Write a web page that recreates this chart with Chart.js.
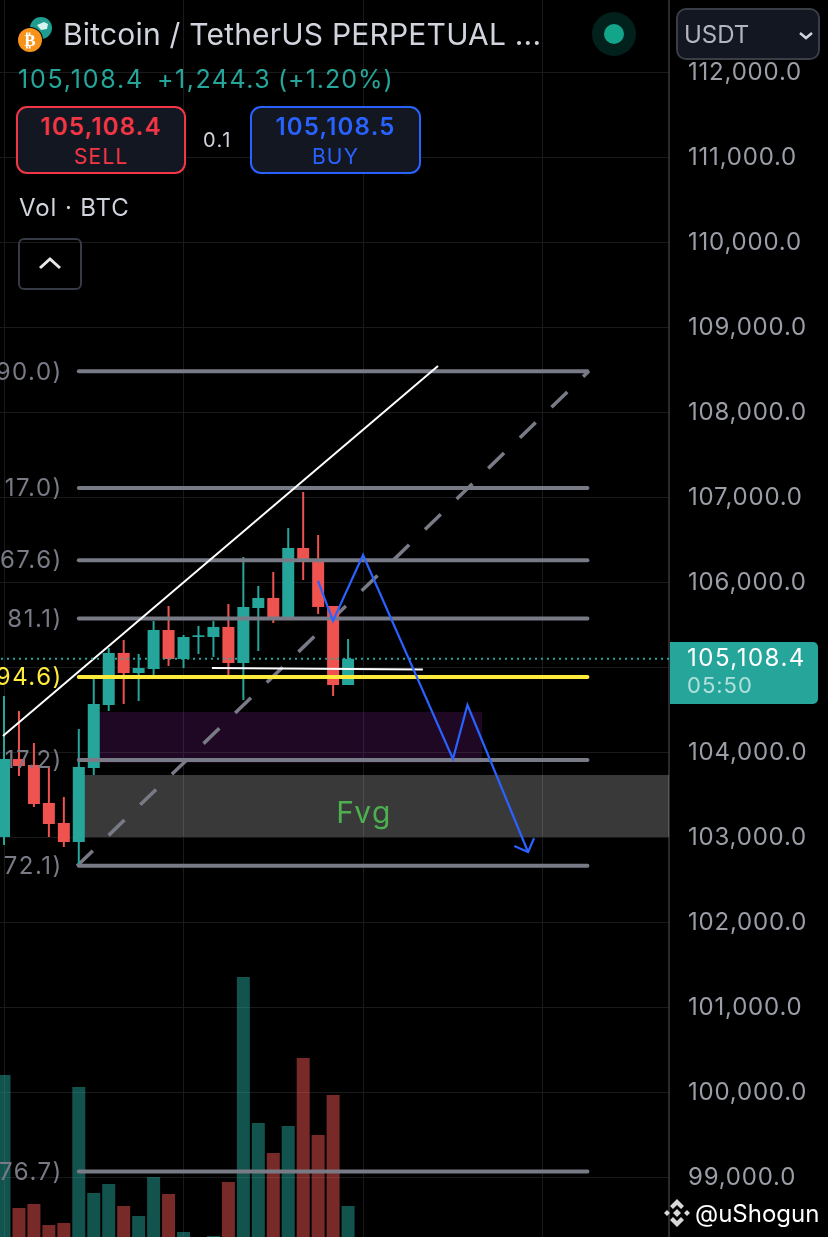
<!DOCTYPE html>
<html>
<head>
<meta charset="utf-8">
<title>BTCUSDT.P</title>
<script src="https://cdn.jsdelivr.net/npm/chart.js@4"></script>
<style>
  html, body { margin: 0; padding: 0; background: #000; width: 828px; height: 1237px; overflow: hidden; }
  body { position: relative; font-family: Inter, "Noto Sans", sans-serif; }
  canvas { position: absolute; left: 0; top: 0; }
  .t { position: absolute; white-space: nowrap; line-height: 1; }
  .box { position: absolute; box-sizing: border-box; }
  .change { top: 67px; font-size: 25px; color: #26a69a; }
  .order { background: #131722; border: 2px solid; border-radius: 11px; height: 68px; top: 106px; text-align: center; }
  .order b { display: block; font-size: 24px; font-weight: 600; line-height: 24px; margin-top: 7px; letter-spacing: 1.2px; }
  .order span { display: block; font-size: 21px; line-height: 21px; margin-top: 7px; letter-spacing: 1.2px; }
</style>
</head>
<body>
<canvas id="chart" width="828" height="1237"></canvas>

<svg class="box" style="left:16px;top:14px" width="44" height="42" viewBox="0 0 44 42">
  <circle cx="25" cy="14" r="11" fill="#1f9d90"/>
  <path d="M21 11l7-3 4 2-1 5-6 1z" fill="#d7f3ef"/>
  <circle cx="14" cy="26" r="13" fill="#000"/>
  <circle cx="14" cy="26" r="12" fill="#f7931a"/>
  <text x="14" y="32" font-size="17" font-weight="700" fill="#fff" text-anchor="middle" font-family="DejaVu Sans">₿</text>
</svg>
<div class="t" style="left:63px;top:19px;font-size:30px;letter-spacing:0.2px;color:#d1d4dc">Bitcoin / TetherUS PERPETUAL ...</div>
<div class="t change" style="left:18px;letter-spacing:1.8px">105,108.4</div>
<div class="t change" style="left:157px;letter-spacing:1.5px">+1,244.3</div>
<div class="t change" style="left:278px;letter-spacing:1px">(+1.20%)</div>

<div class="box order" style="left:16px;width:170px;border-color:#f23645;color:#f23645"><b>105,108.4</b><span>SELL</span></div>
<div class="t" style="left:203px;top:130px;font-size:20px;letter-spacing:1.5px;color:#d1d4dc">0.1</div>
<div class="box order" style="left:250px;width:171px;border-color:#2962ff;color:#2962ff"><b>105,108.5</b><span>BUY</span></div>

<div class="t" style="left:19px;top:196px;font-size:24px;letter-spacing:0.9px;color:#d1d4dc">Vol · BTC</div>
<div class="box" style="left:18px;top:238px;width:64px;height:52px;border:2px solid #363a45;border-radius:6px">
  <svg width="60" height="48"><path d="M20 28l10-9 10 9" fill="none" stroke="#e8e8e8" stroke-width="3"/></svg>
</div>

<svg class="box" style="left:591px;top:11px" width="46" height="46">
  <circle cx="23" cy="23" r="22" fill="#03211c"/>
  <circle cx="23" cy="23" r="10" fill="#13a58a"/>
</svg>

<div class="box" style="left:676px;top:8px;width:144px;height:52px;background:#131722;border:2px solid #3a3d46;border-radius:10px">
  <div class="t" style="left:6px;top:13px;font-size:24px;color:#b2b5be">USDT</div>
  <svg class="box" style="left:120px;top:20px" width="16" height="12"><path d="M2 3l6 5 6-5" fill="none" stroke="#d1d4dc" stroke-width="2.5"/></svg>
</div>

<div class="box" style="left:670px;top:642px;width:148px;height:62px;background:#26a69a;border-radius:0 5px 5px 0">
  <div class="t" style="left:17px;top:4px;font-size:24px;letter-spacing:1.5px;color:#fff">105,108.4</div>
  <div class="t" style="left:17px;top:32px;font-size:22px;letter-spacing:1px;color:rgba(255,255,255,0.65)">05:50</div>
</div>

<svg class="box" style="left:662px;top:1198px" width="30" height="30" viewBox="0 0 30 30">
  <g fill="#d8d8d8">
    <path d="M15 1l7 7-3 3-4-4-4 4-3-3z"/>
    <path d="M15 29l7-7-3-3-4 4-4-4-3 3z"/>
    <path d="M15 11l4 4-4 4-4-4z"/>
    <path d="M5 12l3 3-3 3-3-3z"/>
    <path d="M25 12l3 3-3 3-3-3z"/>
  </g>
</svg>
<div class="t" style="left:695px;top:1202px;font-size:24px;color:#fff">@uShogun</div>

<script>
const opens = [103012, 103929, 103859, 103412, 103177, 102953, 103824, 104565, 105177, 104941, 104988, 105447, 105106, 105365, 105365, 105483, 105059, 105706, 105824, 105600, 106412, 106271, 105730, 104800]
const closes = [103929, 103847, 103400, 103165, 102953, 103835, 104577, 105177, 104941, 105000, 105447, 105106, 105365, 105385, 105483, 105059, 105718, 105824, 105600, 106412, 106271, 105718, 104800, 105108.4]
const highs = [104671, 104494, 104118, 103847, 103482, 104282, 104871, 105235, 105330, 105165, 105553, 105730, 105388, 105494, 105553, 105753, 106306, 105965, 106129, 106647, 107071, 106565, 105730, 105341]
const lows = [102918, 103730, 103365, 103012, 102894, 102671, 103741, 104494, 104577, 104612, 104918, 105024, 105000, 105165, 105130, 104918, 104624, 105200, 105529, 105600, 106035, 105635, 104671, 104800]
const volumes = [1620, 290, 330, 120, 140, 1500, 440, 530, 310, 210, 600, 430, 50, 0, 10, 550, 2600, 1140, 840, 1110, 1790, 1020, 1420, 310]

const priceTicks = [99000, 100000, 101000, 102000, 103000, 104000, 105000, 106000, 107000, 108000, 109000, 110000, 111000, 112000]
const timeTicks = [0, 12, 24, 36]

const lastPrice = 105108.4
const fibPrices = [108490, 107117, 106267.6, 105581.1, 103917.2, 102672.1, 99076.7]
const fibLabels = ['90.0)', '17.0)', '67.6)', '81.1)', '17.2)', '72.1)', '76.7)']
const goldenPrice = 104894.6
const goldenLabel = '94.6)'
const fibStart = 5
const fibEnd = 39

const trendLine = [{ x: -0.07, y: 104200 }, { x: 29.01, y: 108553 }]
const dashedLine = [{ x: 4.88, y: 102671 }, { x: 39.1, y: 108494 }]
const rangeLine = [{ x: 13.9, y: 105000 }, { x: 28, y: 104982 }]
const pathLine = [
  { x: 20.99, y: 106024 },
  { x: 21.99, y: 105553 },
  { x: 24, y: 106329 },
  { x: 30.01, y: 103929 },
  { x: 30.98, y: 104565 },
  { x: 35.03, y: 102835 }
]
const arrowHead = [{ x: 34.11, y: 102906 }, { x: 35.03, y: 102835 }, { x: 35.43, y: 102997 }]

const purpleZone = { from: 6.22, to: 31.95, top: 104482, bottom: 103886 }
const fvgZone = { from: 5.08, to: 44.46, top: 103741, bottom: 103012, label: 'Fvg', labelX: 24.07, labelY: 103282 }

const TEAL = '#26a69a'
const RED = '#ef5350'
const GREY = '#787b86'
const BLUE = '#2962ff'
const YELLOW = '#ffeb3b'

const indexes = opens.map((_, i) => i)
const candleColors = opens.map((o, i) => (closes[i] >= o ? TEAL : RED))
const volumeColors = opens.map((o, i) => (closes[i] >= o ? 'rgba(38,166,154,0.5)' : 'rgba(239,83,80,0.5)'))

function line (data, color, width, order, extra) {
  return Object.assign({
    type: 'line',
    data,
    borderColor: color,
    borderWidth: width,
    pointRadius: 0,
    tension: 0,
    order
  }, extra)
}

function zone (z, color, order) {
  return line([{ x: z.from, y: z.top }, { x: z.to, y: z.top }], 'transparent', 0, order, {
    fill: { value: z.bottom },
    backgroundColor: color
  })
}

const datasets = [
  {
    yAxisID: 'vol',
    data: indexes.map(i => ({ x: i, y: volumes[i] })),
    backgroundColor: volumeColors,
    barThickness: 13,
    order: 20
  },
  zone(purpleZone, 'rgba(156,39,176,0.2)', 19),
  zone(fvgZone, 'rgba(255,255,255,0.225)', 18),
  line(dashedLine, GREY, 3.5, 17, { borderDash: [22, 22] }),
  {
    data: indexes.map(i => ({ x: i, y: [lows[i], highs[i]] })),
    backgroundColor: candleColors,
    barThickness: 2,
    order: 16
  },
  {
    data: indexes.map(i => ({ x: i, y: [opens[i], closes[i]] })),
    backgroundColor: candleColors,
    barThickness: 12,
    order: 15
  },
  ...fibPrices.map(p => line([{ x: fibStart, y: p }, { x: fibEnd, y: p }], GREY, 4, 10, { borderCapStyle: 'round' })),
  line([{ x: fibStart, y: goldenPrice }, { x: fibEnd, y: goldenPrice }], YELLOW, 4, 9, { borderCapStyle: 'round' }),
  line(rangeLine, '#ffffff', 2, 8),
  line(trendLine, '#ffffff', 2, 7),
  line([{ x: -1, y: lastPrice }, { x: 45, y: lastPrice }], TEAL, 2, 6, { borderDash: [2, 4] }),
  line(pathLine, BLUE, 2.2, 5),
  line(arrowHead, BLUE, 2.2, 4)
]

const drawingLabels = {
  id: 'drawingLabels',
  beforeDraw (chart) {
    // axis labels have no spacing option, so it goes on the context
    chart.ctx.letterSpacing = '0.8px'
  },
  afterDatasetsDraw (chart) {
    const { ctx, scales: { x, y } } = chart
    ctx.save()
    ctx.letterSpacing = '1.5px'
    ctx.textBaseline = 'middle'
    ctx.font = '24px Inter'
    ctx.textAlign = 'right'
    const labelRight = x.getPixelForValue(fibStart) - 16
    ctx.fillStyle = GREY
    fibPrices.forEach((p, i) => ctx.fillText(fibLabels[i], labelRight, y.getPixelForValue(p) + 1))
    ctx.fillStyle = YELLOW
    ctx.fillText(goldenLabel, labelRight, y.getPixelForValue(goldenPrice) + 1)
    ctx.font = '30px Inter'
    ctx.textAlign = 'center'
    ctx.fillStyle = '#4caf50'
    ctx.fillText(fvgZone.label, x.getPixelForValue(fvgZone.labelX), y.getPixelForValue(fvgZone.labelY))
    ctx.restore()
  }
}

new Chart(document.getElementById('chart').getContext('2d'), {
  type: 'bar',
  data: { datasets },
  plugins: [drawingLabels],
  options: {
    responsive: false,
    animation: false,
    events: [],
    layout: { padding: 0 },
    datasets: { bar: { grouped: false, inflateAmount: 0 } },
    plugins: {
      legend: { display: false },
      title: { display: false },
      tooltip: { enabled: false }
    },
    scales: {
      x: {
        type: 'linear',
        offset: false,
        min: -0.2674,
        max: 44.4519,
        grid: { color: '#1a1a1c', offset: false, drawTicks: false },
        border: { display: false },
        ticks: { display: false, autoSkip: false },
        afterBuildTicks: s => { s.ticks = timeTicks.map(value => ({ value })) },
        afterFit: s => { s.height = 0 }
      },
      y: {
        position: 'right',
        min: 98305.88,
        max: 112858.82,
        grid: { color: '#1a1a1c', drawTicks: false },
        border: { color: '#2a2b2f', width: 2 },
        ticks: {
          autoSkip: false,
          padding: 19,
          color: '#9b9ea7',
          font: { family: 'Inter', size: 24 },
          callback: value => value.toLocaleString('en-US', { minimumFractionDigits: 1 })
        },
        afterBuildTicks: s => { s.ticks = priceTicks.map(value => ({ value })) },
        afterFit: s => {
          s.width = 159
          s.paddingTop = 0
          s.paddingBottom = 0
        }
      },
      vol: {
        display: false,
        min: 0,
        max: 12370
      }
    }
  }
})
</script>
</body>
</html>
